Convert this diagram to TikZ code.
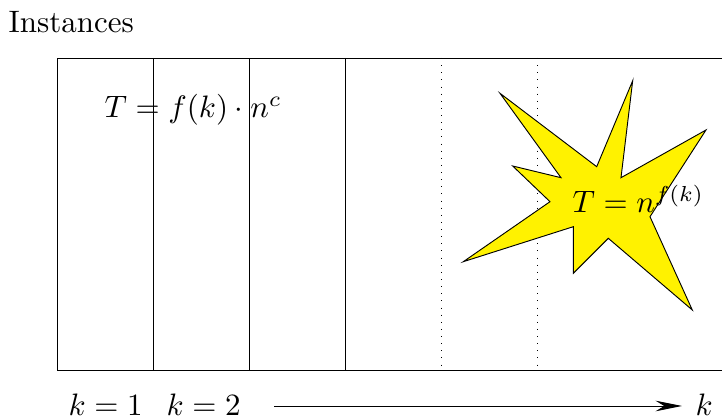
\documentclass[tikz,border=0pt]{standalone}
\usetikzlibrary{arrows.meta}
\begin{document}
\begin{tikzpicture}[x=0.3226pt,y=-0.3226pt,
  lbl/.style={inner sep=0pt,anchor=base west},
  sep/.style={draw=black,line width=0.3pt},
  dotsep/.style={draw=black,line width=0.3pt,dotted},
  boom/.style={draw=black,fill=yellow,line width=0.3pt,line join=miter}]
\clip (0,0) rectangle (722,417);
\node[lbl] (title) at (8,33) {Instances};
% frame
\coordinate (tl) at (57,58);
\coordinate (br) at (740,370);
\draw[sep] (tl) rectangle (br);
\foreach \x/\n in {153/a,249/b,345/c}{
  \coordinate (t\n) at (\x,58); \coordinate (b\n) at (\x,370);
  \draw[sep] (t\n) -- (b\n);
}
\foreach \x/\n in {441/d,537/e}{
  \coordinate (t\n) at (\x,58); \coordinate (b\n) at (\x,370);
  \draw[dotsep] (t\n) -- (b\n);
}
\node[lbl] (poly) at (104,118) {$T = f(k)\cdot n^c$};
% explosion
\draw[boom] (500,93.3) -- (596.7,166.7) -- (632.7,80.7) -- (621,177.7)
  -- (706,130) -- (650,216.7) -- (692.3,310) -- (608.3,238.3)
  -- (573.3,273.3) -- (573.3,226.7) -- (463.3,261.7) -- (550,201.7)
  -- (512.7,166) -- (561,177.7) -- cycle;
\node[lbl] (expo) at (572,213) {$T = n^{f(k)}$};
% axis
\node[lbl] (k1) at (68,415.5) {$k=1$};
\node[lbl] (k2) at (166,415.5) {$k=2$};
\node[lbl] (kk) at (695,415.5) {$k$};
\coordinate (as) at (274,406);
\coordinate (ae) at (682,406);
\draw[sep,-{Stealth[length=8.5pt,width=3.4pt]}] (as) -- (ae);
\end{tikzpicture}
\end{document}
